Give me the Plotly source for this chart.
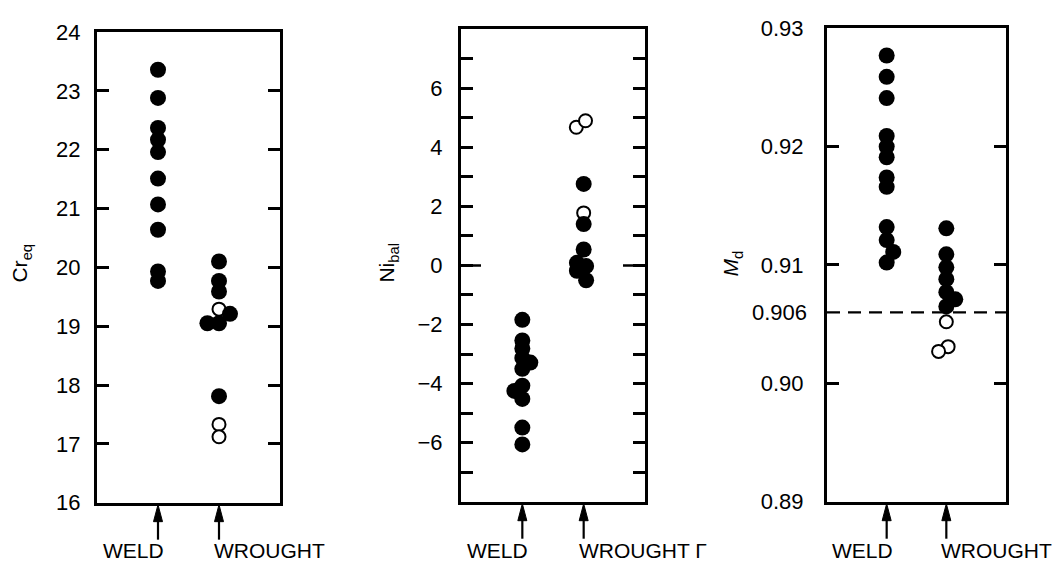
import plotly.graph_objects as go

# ---------------- data ----------------
categories = ["WELD", "WROUGHT"]
cat_x = [1, 2]

# Panel 1: Cr_eq
cr_weld_filled = [23.36, 22.88, 22.37, 22.17, 21.96, 21.51, 21.07, 20.64, 19.93, 19.77]
cr_wrought_filled = [20.10, 19.77, 19.59, 19.21, 19.05, 19.05, 17.81]
cr_wrought_open = [19.29, 17.33, 17.12]
cr_ticks = [16, 17, 18, 19, 20, 21, 22, 23, 24]

# Panel 2: Ni_bal
ni_weld_filled = [-1.84, -2.54, -2.81, -3.13, -3.29, -3.50, -4.07, -4.25, -4.52, -5.49, -6.06]
ni_wrought_filled = [2.76, 1.40, 0.54, 0.09, -0.02, -0.18, -0.50]
ni_wrought_open = [4.68, 4.90, 1.78]
ni_major_ticks = [-6, -4, -2, 0, 2, 4, 6]
ni_minor_ticks = [-7, -5, -3, -1, 1, 3, 5, 7]

# Panel 3: M_d
md_weld_filled = [0.9277, 0.9259, 0.9241, 0.9209, 0.9200, 0.9191, 0.9174, 0.9166,
                  0.9132, 0.9121, 0.9111, 0.9102]
md_wrought_filled = [0.9131, 0.9109, 0.9098, 0.9088, 0.9077, 0.9071, 0.9065]
md_wrought_open = [0.9052, 0.9031, 0.9027]
md_ticks = [0.89, 0.90, 0.91, 0.92, 0.93]
md_limit = 0.906

# horizontal offsets (category units) used to separate overlapping symbols
cr_weld_jit = [0] * 10
cr_wrought_filled_jit = [0, 0, 0, 0.18, -0.19, 0, 0]
cr_wrought_open_jit = [0, 0, 0]
ni_weld_jit = [0, 0, 0, 0, 0.13, 0, 0, -0.13, 0, 0, 0]
ni_wrought_filled_jit = [0, 0, 0, -0.11, 0.04, -0.11, 0.04]
ni_wrought_open_jit = [-0.12, 0.03, 0]
md_weld_jit = [0] * 10 + [0.11, 0]
md_wrought_filled_jit = [0, 0, 0, 0, 0, 0.15, 0]
md_wrought_open_jit = [0, 0.03, -0.13]

# ---------------- figure ----------------
W, H = 1059, 574
FONT = "Liberation Sans, Arial, Helvetica, sans-serif"
FS = 21
TFS = 22

boxes = [  # (left, right, top, bottom) in px
    (97, 280, 21, 513),
    (461, 645, 18, 512),
    (827, 1006, 17, 512),
]

fig = go.Figure()


def dom(b):
    l, r, t, bt = b
    return [l / W, r / W], [1 - bt / H, 1 - t / H]


def fmt(v):
    s = str(v)
    return s.replace("-", "\u2212")


def add_pts(idx, base, vals, jit, filled):
    xa = "x" if idx == 1 else f"x{idx}"
    ya = "y" if idx == 1 else f"y{idx}"
    xs = [base + j for j in jit]
    if filled:
        marker = dict(size=16, color="black", line=dict(width=0))
    else:
        marker = dict(size=13, color="white", line=dict(width=2, color="black"))
    fig.add_trace(go.Scatter(x=xs, y=vals, mode="markers", marker=marker,
                             xaxis=xa, yaxis=ya, showlegend=False, hoverinfo="skip",
                             cliponaxis=False))


# open symbols drawn first, filled on top
add_pts(1, cat_x[1], cr_wrought_open, cr_wrought_open_jit, False)
add_pts(1, cat_x[0], cr_weld_filled, cr_weld_jit, True)
add_pts(1, cat_x[1], cr_wrought_filled, cr_wrought_filled_jit, True)

add_pts(2, cat_x[1], ni_wrought_open, ni_wrought_open_jit, False)
add_pts(2, cat_x[0], ni_weld_filled, ni_weld_jit, True)
add_pts(2, cat_x[1], ni_wrought_filled, ni_wrought_filled_jit, True)

add_pts(3, cat_x[1], md_wrought_open, md_wrought_open_jit, False)
add_pts(3, cat_x[0], md_weld_filled, md_weld_jit, True)
add_pts(3, cat_x[1], md_wrought_filled, md_wrought_filled_jit, True)

layout = dict(
    width=W, height=H, margin=dict(l=0, r=0, t=0, b=0),
    paper_bgcolor="white", plot_bgcolor="white",
    font=dict(family=FONT, size=FS, color="black"),
    showlegend=False,
)

yspecs = [
    dict(range=[16, 24], tickvals=cr_ticks, ticktext=[fmt(v) for v in cr_ticks],
         minor=None, standoff=9),
    dict(range=[-8, 8], tickvals=ni_major_ticks, ticktext=[fmt(v) for v in ni_major_ticks],
         minor=ni_minor_ticks, standoff=11),
    dict(range=[0.89, 0.93], tickvals=md_ticks, ticktext=[f"{v:.2f}" for v in md_ticks],
         minor=None, standoff=16),
]

for i, (b, ys) in enumerate(zip(boxes, yspecs), start=1):
    xd, yd = dom(b)
    sfx = "" if i == 1 else str(i)
    layout[f"xaxis{sfx}"] = dict(domain=xd, range=[0, 3], fixedrange=True, showgrid=False,
                                 zeroline=False, showline=True, linewidth=3, linecolor="black",
                                 mirror=True, ticks="", showticklabels=False,
                                 anchor=f"y{sfx}")
    yax = dict(domain=yd, range=ys["range"], tickmode="array",
               tickvals=ys["tickvals"], ticktext=ys["ticktext"],
               showgrid=False, zeroline=False, showline=True, linewidth=3,
               linecolor="black", mirror="allticks", ticks="inside",
               ticklen=12, tickwidth=2.5, tickcolor="black",
               ticklabelstandoff=ys["standoff"],
               tickfont=dict(family=FONT, size=TFS, color="black"),
               anchor=f"x{sfx}", fixedrange=True)
    if ys["minor"]:
        yax["minor"] = dict(tickmode="array", tickvals=ys["minor"], ticks="inside",
                            ticklen=12, tickwidth=2.5, tickcolor="black", showgrid=False)
    layout[f"yaxis{sfx}"] = yax

fig.update_layout(**layout)

shapes = []
annotations = []

# longer zero tick on Ni_bal panel
for x0, x1 in [(0, 20 / 184), (1 - 22 / 184, 1)]:
    shapes.append(dict(type="line", xref="x2 domain", yref="y2", x0=x0, x1=x1, y0=0, y1=0,
                       line=dict(color="black", width=2.5)))

# dashed limit line on M_d panel
shapes.append(dict(type="line", xref="x3 domain", yref="y3", x0=0, x1=1,
                   y0=md_limit, y1=md_limit,
                   line=dict(color="black", width=2.2, dash="13px,8px")))
annotations.append(dict(xref="x3 domain", yref="y3", x=0, y=md_limit, xanchor="right",
                        yanchor="middle", xshift=-18, text=f"{md_limit:.3f}",
                        showarrow=False, font=dict(size=TFS)))

# category arrows and labels
wrought_text = ["WROUGHT", "WROUGHT Γ", "WROUGHT"]
for i in range(1, 4):
    sfx = "" if i == 1 else str(i)
    for c, cx in zip(categories, cat_x):
        shapes.append(dict(type="path", xref=f"x{sfx}", yref=f"y{sfx} domain",
                           xsizemode="pixel", ysizemode="pixel", xanchor=cx, yanchor=0,
                           path="M 0,-2 L -4.5,-19 L 4.5,-19 Z",
                           fillcolor="black", line=dict(color="black", width=1)))
        shapes.append(dict(type="line", xref=f"x{sfx}", yref=f"y{sfx} domain",
                           xsizemode="pixel", ysizemode="pixel", xanchor=cx, yanchor=0,
                           x0=0, x1=0, y0=-12, y1=-37,
                           line=dict(color="black", width=2.2)))
        if c == "WELD":
            annotations.append(dict(xref=f"x{sfx}", yref="paper", x=cx, y=1 - 563 / H,
                                    xanchor="right", yanchor="middle", xshift=8,
                                    text=c, showarrow=False, font=dict(size=FS)))
        else:
            annotations.append(dict(xref=f"x{sfx}", yref="paper", x=cx, y=1 - 563 / H,
                                    xanchor="left", yanchor="middle", xshift=-7,
                                    text=wrought_text[i - 1], showarrow=False,
                                    font=dict(size=FS)))

# axis titles
titles = [("Cr<sub>eq</sub>", 21), ("Ni<sub>bal</sub>", 388), ("<i>M</i><sub>d</sub>", 732)]
for t, xp in titles:
    annotations.append(dict(xref="paper", yref="paper", x=xp / W, y=1 - 263 / H,
                            xanchor="center", yanchor="middle", textangle=-90, text=t,
                            showarrow=False, font=dict(size=FS)))

fig.update_layout(shapes=shapes, annotations=annotations)
fig.write_html("out.html")
